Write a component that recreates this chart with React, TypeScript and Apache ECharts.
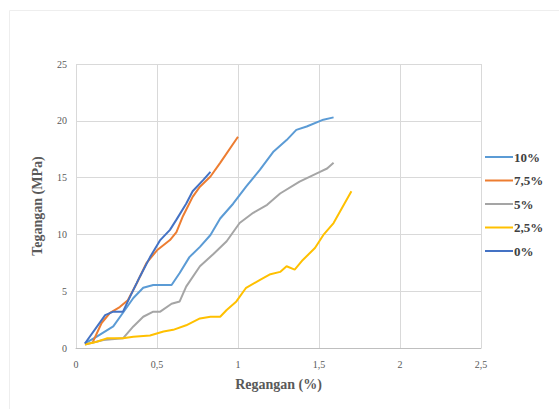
import React, { useEffect, useRef } from "react";
import * as echarts from "echarts";

const seriesNames = ["10%", "7,5%", "5%", "2,5%", "0%"];
const seriesColors = ["#5B9BD5", "#ED7D31", "#A5A5A5", "#FFC000", "#4472C4"];

const s10: [number, number][] = [
  [0.055, 0.4], [0.128, 1.0], [0.23, 1.9], [0.29, 3.1], [0.354, 4.4], [0.415, 5.3],
  [0.477, 5.55], [0.59, 5.55], [0.64, 6.6], [0.70, 8.0], [0.765, 8.9], [0.83, 9.95],
  [0.89, 11.4], [0.97, 12.7], [1.05, 14.2], [1.136, 15.7], [1.22, 17.3], [1.30, 18.3],
  [1.36, 19.2], [1.424, 19.5], [1.527, 20.1], [1.59, 20.3],
];
const s75: [number, number][] = [
  [0.1, 0.4], [0.158, 2.2], [0.21, 3.1], [0.27, 3.6], [0.32, 4.2], [0.375, 5.7],
  [0.436, 7.5], [0.5, 8.6], [0.58, 9.5], [0.62, 10.2], [0.66, 11.6], [0.72, 13.3],
  [0.765, 14.2], [0.83, 15.1], [0.89, 16.3], [1.0, 18.6],
];
const s5: [number, number][] = [
  [0.055, 0.3], [0.17, 0.7], [0.29, 0.85], [0.354, 1.9], [0.415, 2.75], [0.477, 3.2],
  [0.52, 3.2], [0.59, 3.9], [0.64, 4.1], [0.68, 5.4], [0.765, 7.2], [0.85, 8.3],
  [0.93, 9.4], [1.01, 11.0], [1.094, 11.9], [1.18, 12.6], [1.26, 13.6], [1.38, 14.65],
  [1.506, 15.5], [1.55, 15.8], [1.59, 16.3],
];
const s25: [number, number][] = [
  [0.055, 0.3], [0.128, 0.55], [0.19, 0.85], [0.29, 0.85], [0.354, 1.0], [0.457, 1.1],
  [0.54, 1.45], [0.6, 1.6], [0.68, 2.0], [0.765, 2.6], [0.83, 2.75], [0.89, 2.75],
  [0.93, 3.35], [0.99, 4.1], [1.05, 5.3], [1.136, 6.0], [1.2, 6.5], [1.26, 6.7],
  [1.30, 7.2], [1.35, 6.9], [1.40, 7.75], [1.475, 8.8], [1.527, 9.95], [1.59, 11.0],
  [1.70, 13.8],
];
const s0: [number, number][] = [
  [0.055, 0.4], [0.18, 2.9], [0.23, 3.2], [0.29, 3.2], [0.333, 4.5], [0.395, 6.3],
  [0.457, 8.0], [0.52, 9.5], [0.58, 10.4], [0.62, 11.3], [0.68, 12.7], [0.72, 13.8],
  [0.786, 14.8], [0.83, 15.5],
];
const seriesData = [s10, s75, s5, s25, s0];

const xTitle = "Regangan (%)";
const yTitle = "Tegangan (MPa)";

export default function App() {
  const ref = useRef<HTMLDivElement>(null);
  useEffect(() => {
    if (!ref.current) return;
    const chart = echarts.init(ref.current, undefined, { renderer: "svg" });
    const serif = "'Liberation Serif', 'Times New Roman', serif";
    chart.setOption({
      animation: false,
      backgroundColor: "#ffffff",
      graphic: [
        {
          type: "rect",
          shape: { x: 9.5, y: 10.5, width: 560, height: 410 },
          style: { fill: "none", stroke: "#EEEEEE", lineWidth: 1 },
          silent: true,
        },
      ],
      grid: { left: 76, right: 78, top: 64, bottom: 61 },
      legend: {
        orient: "vertical",
        left: 480,
        top: 145,
        itemWidth: 28,
        itemHeight: 2,
        itemGap: 9.5,
        icon: "rect",
        data: seriesNames,
        textStyle: {
          fontFamily: serif,
          fontWeight: "bold",
          fontSize: 13,
          lineHeight: 14,
          color: "#404040",
          padding: [0, 0, 0, -4],
        },
      },
      xAxis: {
        type: "value",
        min: 0,
        max: 2.5,
        interval: 0.5,
        name: xTitle,
        nameLocation: "middle",
        nameGap: 29,
        nameTextStyle: { fontFamily: serif, fontWeight: "bold", fontSize: 14, color: "#595959" },
        axisLine: { show: true, lineStyle: { color: "#BFBFBF" } },
        axisTick: { show: false },
        axisLabel: {
          fontFamily: serif,
          fontSize: 10,
          color: "#595959",
          margin: 11,
          formatter: (v: number) => String(v).replace(".", ","),
        },
        splitLine: { show: true, lineStyle: { color: "#D9D9D9" } },
      },
      yAxis: {
        type: "value",
        min: 0,
        max: 25,
        interval: 5,
        name: yTitle,
        nameLocation: "middle",
        nameGap: 32,
        nameTextStyle: { fontFamily: serif, fontWeight: "bold", fontSize: 14, color: "#595959" },
        axisLine: { show: false },
        axisTick: { show: false },
        axisLabel: { fontFamily: serif, fontSize: 10, color: "#595959", margin: 9 },
        splitLine: { show: true, lineStyle: { color: "#D9D9D9" } },
      },
      series: seriesNames.map((name, i) => ({
        name,
        type: "line",
        data: seriesData[i],
        showSymbol: false,
        symbol: "none",
        color: seriesColors[i],
        lineStyle: { width: 2, color: seriesColors[i] },
      })),
    });
    return () => chart.dispose();
  }, []);
  return (
    <div
      ref={ref}
      style={{ position: "absolute", left: 0, top: 0, width: 559, height: 409 }}
    />
  );
}
